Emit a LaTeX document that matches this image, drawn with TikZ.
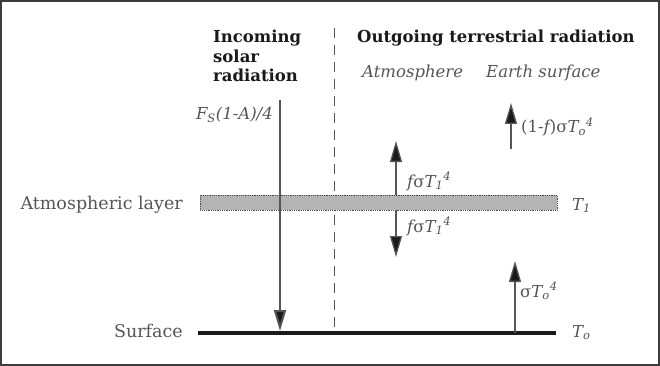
\documentclass[tikz,border=0pt]{standalone}
\usepackage{fontspec}
\setmainfont{DejaVu Serif}
\usetikzlibrary{arrows.meta}
\definecolor{lbl}{HTML}{555555}
\definecolor{ink}{HTML}{1A1A1A}
\definecolor{layerfill}{HTML}{B4B4B4}
\begin{document}
\begin{tikzpicture}[x=1pt,y=-1pt,
  head/.style={font=\fontsize{16.5}{19.5}\selectfont\bfseries, text=ink, inner sep=0pt, anchor=base west},
  lab/.style={font=\fontsize{17.5}{20}\selectfont, text=lbl, inner sep=0pt},
  ilab/.style={font=\fontsize{16.5}{19}\selectfont\itshape, text=lbl, inner sep=0pt},
  flux/.style={draw=lbl, line width=1.3pt, -{Triangle[length=21pt,width=12pt,fill=ink]}},
]
\useasboundingbox (0,0) rectangle (660,366);
\draw[draw=ink!85, line width=2pt] (1,1) rectangle (659,365);

% headings
\node[head] (inc1) at (213,43) {Incoming};
\node[head] (inc2) at (213,63) {solar};
\node[head] (inc3) at (213,82) {radiation};
\node[head] (out) at (357,43) {Outgoing terrestrial radiation};
\node[ilab, anchor=base west] (atm) at (362,78) {Atmosphere};
\node[ilab, anchor=base west] (esf) at (486,78) {Earth surface};

% dashed divider
\coordinate (dtop) at (334.5,28);
\coordinate (dbot) at (334.5,333);
\draw[lbl, line width=1pt, dash pattern=on 10pt off 7pt] (dtop) -- (dbot);

% atmospheric layer
\node[draw=ink!80, densely dotted, line width=0.8pt, fill=layerfill, minimum width=357pt, minimum height=15pt, inner sep=0pt, anchor=north west] (layer) at (200,195) {};
\node[lab, anchor=base east] (layerlbl) at (183,209) {Atmospheric layer};
\node[ilab, anchor=base west] (t1) at (572,210) {T\textsubscript{1}};

% surface
\coordinate (sL) at (198,333);
\coordinate (sR) at (556,333);
\draw[ink, line width=3.5pt] (sL) -- (sR);
\node[lab, anchor=base east] (surflbl) at (183,337) {Surface};
\node[ilab, anchor=base west] (t0) at (572,337) {T\textsubscript{o}};

% solar flux
\coordinate (solTop) at (280,100);
\coordinate (solBot) at (280,331);
\draw[flux, line width=2pt] (solTop) -- (solBot);
\node[ilab, anchor=base east] (fs) at (273,120) {F\textsubscript{S}(1-A)/4};

% atmosphere up/down
\coordinate (aUpS) at (396,195);
\coordinate (aUpE) at (396,141);
\coordinate (aDnS) at (396,210);
\coordinate (aDnE) at (396,257);
\draw[flux] (aUpS) -- (aUpE);
\draw[flux] (aDnS) -- (aDnE);
\node[ilab, anchor=base west] (fup) at (407,187) {f{\upshape σ}T\textsubscript{1}\textsuperscript{4}};
\node[ilab, anchor=base west] (fdn) at (407,232) {f{\upshape σ}T\textsubscript{1}\textsuperscript{4}};

% surface transmitted
\coordinate (tS) at (511,149);
\coordinate (tE) at (511,103);
\draw[flux] (tS) -- (tE);
\node[ilab, anchor=base west] (ftr) at (521,133) {{\upshape (1-}f{\upshape )σ}T\textsubscript{o}\textsuperscript{4}};

% surface emission
\coordinate (eS) at (515,333);
\coordinate (eE) at (515,261);
\draw[flux] (eS) -- (eE);
\node[ilab, anchor=base west] (fem) at (520,297) {{\upshape σ}T\textsubscript{o}\textsuperscript{4}};
\end{tikzpicture}
\end{document}
